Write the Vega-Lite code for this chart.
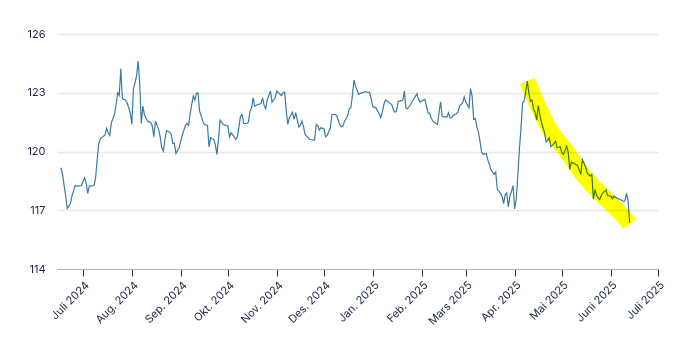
{
  "$schema": "https://vega.github.io/schema/vega-lite/v6.json",
  "width": 601,
  "height": 235,
  "autosize": {"type": "none"},
  "padding": {"left": 57, "top": 34, "right": 32, "bottom": 91},
  "background": "white",
  "config": {
    "view": {"stroke": null},
    "font": "Inter",
    "axis": {"labelFont": "Inter", "labelFontSize": 11, "labelColor": "#1a2744"}
  },
  "datasets": {
    "series": [
      {"date": "2024-06-17", "value": 119.17}, {"date": "2024-06-18", "value": 118.83}, {"date": "2024-06-20", "value": 117.72}, {"date": "2024-06-21", "value": 117.09}, {"date": "2024-06-23", "value": 117.34}, {"date": "2024-06-24", "value": 117.72}, {"date": "2024-06-26", "value": 118.26}, {"date": "2024-06-28", "value": 118.23}, {"date": "2024-06-30", "value": 118.26}, {"date": "2024-07-02", "value": 118.66}, {"date": "2024-07-03", "value": 118.40}, {"date": "2024-07-04", "value": 117.86}, {"date": "2024-07-05", "value": 118.23}, {"date": "2024-07-08", "value": 118.26}, {"date": "2024-07-09", "value": 118.66}, {"date": "2024-07-10", "value": 119.59}, {"date": "2024-07-11", "value": 120.39}, {"date": "2024-07-12", "value": 120.65}, {"date": "2024-07-15", "value": 120.85}, {"date": "2024-07-16", "value": 121.18}, {"date": "2024-07-17", "value": 120.96}, {"date": "2024-07-18", "value": 120.82}, {"date": "2024-07-19", "value": 121.47}, {"date": "2024-07-21", "value": 121.89}, {"date": "2024-07-22", "value": 122.40}, {"date": "2024-07-23", "value": 123.00}, {"date": "2024-07-24", "value": 122.86}, {"date": "2024-07-25", "value": 124.23}, {"date": "2024-07-26", "value": 122.69}, {"date": "2024-07-28", "value": 122.63}, {"date": "2024-07-29", "value": 122.49}, {"date": "2024-07-31", "value": 121.98}, {"date": "2024-08-01", "value": 121.38}, {"date": "2024-08-02", "value": 123.17}, {"date": "2024-08-04", "value": 123.85}, {"date": "2024-08-05", "value": 124.62}, {"date": "2024-08-06", "value": 123.51}, {"date": "2024-08-07", "value": 121.43}, {"date": "2024-08-08", "value": 122.32}, {"date": "2024-08-09", "value": 121.89}, {"date": "2024-08-11", "value": 121.55}, {"date": "2024-08-13", "value": 121.47}, {"date": "2024-08-14", "value": 121.30}, {"date": "2024-08-15", "value": 120.75}, {"date": "2024-08-16", "value": 121.55}, {"date": "2024-08-18", "value": 121.13}, {"date": "2024-08-19", "value": 120.75}, {"date": "2024-08-20", "value": 120.19}, {"date": "2024-08-21", "value": 120.02}, {"date": "2024-08-22", "value": 120.60}, {"date": "2024-08-23", "value": 121.07}, {"date": "2024-08-25", "value": 120.99}, {"date": "2024-08-26", "value": 120.87}, {"date": "2024-08-27", "value": 120.41}, {"date": "2024-08-28", "value": 120.41}, {"date": "2024-08-29", "value": 119.90}, {"date": "2024-08-31", "value": 120.19}, {"date": "2024-09-01", "value": 120.53}, {"date": "2024-09-02", "value": 120.82}, {"date": "2024-09-04", "value": 121.33}, {"date": "2024-09-05", "value": 121.43}, {"date": "2024-09-06", "value": 121.33}, {"date": "2024-09-07", "value": 121.89}, {"date": "2024-09-08", "value": 122.40}, {"date": "2024-09-09", "value": 122.83}, {"date": "2024-09-10", "value": 122.63}, {"date": "2024-09-11", "value": 122.97}, {"date": "2024-09-12", "value": 123.00}, {"date": "2024-09-13", "value": 122.06}, {"date": "2024-09-14", "value": 121.84}, {"date": "2024-09-15", "value": 121.55}, {"date": "2024-09-16", "value": 121.38}, {"date": "2024-09-18", "value": 121.33}, {"date": "2024-09-19", "value": 120.24}, {"date": "2024-09-20", "value": 120.70}, {"date": "2024-09-22", "value": 120.61}, {"date": "2024-09-23", "value": 120.36}, {"date": "2024-09-24", "value": 119.85}, {"date": "2024-09-25", "value": 120.61}, {"date": "2024-09-26", "value": 121.60}, {"date": "2024-09-28", "value": 121.38}, {"date": "2024-10-01", "value": 121.30}, {"date": "2024-10-02", "value": 120.75}, {"date": "2024-10-03", "value": 120.96}, {"date": "2024-10-05", "value": 120.75}, {"date": "2024-10-06", "value": 120.61}, {"date": "2024-10-07", "value": 120.75}, {"date": "2024-10-09", "value": 121.81}, {"date": "2024-10-10", "value": 121.89}, {"date": "2024-10-11", "value": 121.43}, {"date": "2024-10-13", "value": 121.43}, {"date": "2024-10-14", "value": 121.50}, {"date": "2024-10-15", "value": 122.06}, {"date": "2024-10-16", "value": 122.23}, {"date": "2024-10-17", "value": 122.74}, {"date": "2024-10-18", "value": 122.32}, {"date": "2024-10-20", "value": 122.40}, {"date": "2024-10-22", "value": 122.45}, {"date": "2024-10-23", "value": 122.74}, {"date": "2024-10-24", "value": 122.35}, {"date": "2024-10-25", "value": 122.18}, {"date": "2024-10-26", "value": 122.66}, {"date": "2024-10-28", "value": 123.09}, {"date": "2024-10-29", "value": 122.52}, {"date": "2024-10-31", "value": 122.74}, {"date": "2024-11-01", "value": 123.09}, {"date": "2024-11-02", "value": 123.00}, {"date": "2024-11-04", "value": 122.86}, {"date": "2024-11-05", "value": 123.00}, {"date": "2024-11-06", "value": 123.03}, {"date": "2024-11-07", "value": 122.11}, {"date": "2024-11-08", "value": 121.38}, {"date": "2024-11-09", "value": 121.72}, {"date": "2024-11-11", "value": 122.01}, {"date": "2024-11-12", "value": 121.64}, {"date": "2024-11-13", "value": 121.98}, {"date": "2024-11-15", "value": 121.26}, {"date": "2024-11-16", "value": 121.33}, {"date": "2024-11-17", "value": 121.55}, {"date": "2024-11-18", "value": 121.26}, {"date": "2024-11-19", "value": 120.87}, {"date": "2024-11-21", "value": 120.70}, {"date": "2024-11-22", "value": 120.61}, {"date": "2024-11-25", "value": 120.58}, {"date": "2024-11-26", "value": 121.38}, {"date": "2024-11-27", "value": 121.33}, {"date": "2024-11-28", "value": 121.09}, {"date": "2024-11-29", "value": 121.21}, {"date": "2024-12-01", "value": 121.16}, {"date": "2024-12-02", "value": 120.75}, {"date": "2024-12-03", "value": 120.82}, {"date": "2024-12-05", "value": 121.21}, {"date": "2024-12-06", "value": 121.89}, {"date": "2024-12-08", "value": 121.89}, {"date": "2024-12-09", "value": 121.84}, {"date": "2024-12-11", "value": 121.38}, {"date": "2024-12-12", "value": 121.26}, {"date": "2024-12-13", "value": 121.30}, {"date": "2024-12-14", "value": 121.55}, {"date": "2024-12-16", "value": 121.81}, {"date": "2024-12-17", "value": 122.18}, {"date": "2024-12-18", "value": 122.23}, {"date": "2024-12-19", "value": 122.83}, {"date": "2024-12-20", "value": 123.65}, {"date": "2024-12-21", "value": 123.34}, {"date": "2024-12-23", "value": 122.91}, {"date": "2024-12-24", "value": 122.97}, {"date": "2024-12-27", "value": 123.05}, {"date": "2024-12-29", "value": 123.03}, {"date": "2024-12-30", "value": 123.00}, {"date": "2024-12-31", "value": 122.66}, {"date": "2025-01-01", "value": 122.28}, {"date": "2025-01-03", "value": 122.23}, {"date": "2025-01-04", "value": 122.06}, {"date": "2025-01-05", "value": 121.94}, {"date": "2025-01-06", "value": 121.72}, {"date": "2025-01-07", "value": 122.01}, {"date": "2025-01-08", "value": 122.40}, {"date": "2025-01-09", "value": 122.63}, {"date": "2025-01-11", "value": 122.52}, {"date": "2025-01-13", "value": 122.40}, {"date": "2025-01-14", "value": 122.15}, {"date": "2025-01-15", "value": 122.01}, {"date": "2025-01-16", "value": 122.06}, {"date": "2025-01-17", "value": 122.54}, {"date": "2025-01-18", "value": 122.57}, {"date": "2025-01-20", "value": 122.63}, {"date": "2025-01-21", "value": 123.09}, {"date": "2025-01-22", "value": 122.23}, {"date": "2025-01-23", "value": 122.18}, {"date": "2025-01-25", "value": 122.40}, {"date": "2025-01-27", "value": 122.69}, {"date": "2025-01-29", "value": 122.95}, {"date": "2025-01-30", "value": 122.66}, {"date": "2025-01-31", "value": 122.52}, {"date": "2025-02-02", "value": 122.63}, {"date": "2025-02-03", "value": 122.66}, {"date": "2025-02-05", "value": 121.98}, {"date": "2025-02-06", "value": 121.94}, {"date": "2025-02-07", "value": 121.72}, {"date": "2025-02-08", "value": 121.55}, {"date": "2025-02-10", "value": 121.43}, {"date": "2025-02-11", "value": 121.38}, {"date": "2025-02-12", "value": 121.98}, {"date": "2025-02-13", "value": 122.54}, {"date": "2025-02-14", "value": 121.81}, {"date": "2025-02-15", "value": 121.77}, {"date": "2025-02-17", "value": 121.77}, {"date": "2025-02-18", "value": 121.98}, {"date": "2025-02-19", "value": 121.72}, {"date": "2025-02-20", "value": 121.72}, {"date": "2025-02-21", "value": 121.84}, {"date": "2025-02-23", "value": 121.93}, {"date": "2025-02-24", "value": 122.01}, {"date": "2025-02-25", "value": 122.32}, {"date": "2025-02-27", "value": 122.49}, {"date": "2025-02-28", "value": 122.80}, {"date": "2025-03-01", "value": 122.52}, {"date": "2025-03-03", "value": 122.23}, {"date": "2025-03-04", "value": 123.20}, {"date": "2025-03-05", "value": 122.83}, {"date": "2025-03-06", "value": 121.64}, {"date": "2025-03-07", "value": 121.69}, {"date": "2025-03-08", "value": 121.26}, {"date": "2025-03-09", "value": 120.99}, {"date": "2025-03-10", "value": 120.53}, {"date": "2025-03-11", "value": 119.97}, {"date": "2025-03-12", "value": 119.85}, {"date": "2025-03-14", "value": 119.90}, {"date": "2025-03-15", "value": 119.56}, {"date": "2025-03-16", "value": 119.34}, {"date": "2025-03-17", "value": 119.05}, {"date": "2025-03-19", "value": 118.83}, {"date": "2025-03-20", "value": 118.95}, {"date": "2025-03-21", "value": 118.06}, {"date": "2025-03-22", "value": 117.97}, {"date": "2025-03-23", "value": 117.86}, {"date": "2025-03-24", "value": 117.72}, {"date": "2025-03-25", "value": 117.34}, {"date": "2025-03-26", "value": 117.80}, {"date": "2025-03-27", "value": 117.89}, {"date": "2025-03-28", "value": 117.17}, {"date": "2025-03-29", "value": 117.72}, {"date": "2025-03-30", "value": 117.97}, {"date": "2025-03-31", "value": 118.26}, {"date": "2025-04-01", "value": 117.07}, {"date": "2025-04-02", "value": 117.55}, {"date": "2025-04-03", "value": 118.74}, {"date": "2025-04-04", "value": 120.10}, {"date": "2025-04-05", "value": 121.13}, {"date": "2025-04-06", "value": 122.49}, {"date": "2025-04-07", "value": 122.57}, {"date": "2025-04-08", "value": 123.03}, {"date": "2025-04-09", "value": 123.60}, {"date": "2025-04-10", "value": 123.00}, {"date": "2025-04-11", "value": 122.57}, {"date": "2025-04-12", "value": 122.63}, {"date": "2025-04-13", "value": 122.15}, {"date": "2025-04-14", "value": 122.01}, {"date": "2025-04-15", "value": 121.60}, {"date": "2025-04-16", "value": 122.35}, {"date": "2025-04-17", "value": 121.89}, {"date": "2025-04-18", "value": 121.47}, {"date": "2025-04-20", "value": 120.96}, {"date": "2025-04-21", "value": 120.48}, {"date": "2025-04-23", "value": 120.70}, {"date": "2025-04-24", "value": 120.24}, {"date": "2025-04-26", "value": 120.41}, {"date": "2025-04-27", "value": 120.53}, {"date": "2025-04-28", "value": 120.19}, {"date": "2025-04-30", "value": 120.24}, {"date": "2025-05-01", "value": 119.93}, {"date": "2025-05-02", "value": 119.85}, {"date": "2025-05-04", "value": 120.27}, {"date": "2025-05-05", "value": 119.97}, {"date": "2025-05-06", "value": 119.08}, {"date": "2025-05-07", "value": 119.46}, {"date": "2025-05-08", "value": 119.42}, {"date": "2025-05-11", "value": 119.29}, {"date": "2025-05-12", "value": 119.05}, {"date": "2025-05-13", "value": 118.83}, {"date": "2025-05-14", "value": 119.59}, {"date": "2025-05-16", "value": 119.22}, {"date": "2025-05-17", "value": 118.91}, {"date": "2025-05-19", "value": 118.74}, {"date": "2025-05-20", "value": 118.83}, {"date": "2025-05-21", "value": 117.55}, {"date": "2025-05-22", "value": 118.06}, {"date": "2025-05-23", "value": 117.75}, {"date": "2025-05-25", "value": 117.55}, {"date": "2025-05-26", "value": 117.75}, {"date": "2025-05-27", "value": 117.89}, {"date": "2025-05-29", "value": 118.03}, {"date": "2025-05-30", "value": 117.75}, {"date": "2025-06-01", "value": 117.72}, {"date": "2025-06-02", "value": 117.58}, {"date": "2025-06-03", "value": 117.72}, {"date": "2025-06-05", "value": 117.63}, {"date": "2025-06-06", "value": 117.58}, {"date": "2025-06-07", "value": 117.55}, {"date": "2025-06-09", "value": 117.46}, {"date": "2025-06-10", "value": 117.46}, {"date": "2025-06-11", "value": 117.86}, {"date": "2025-06-12", "value": 117.50}, {"date": "2025-06-13", "value": 116.36}
    ],
    "highlight": [
      {"date": "2025-04-09", "value": 123.6},
      {"date": "2025-04-22", "value": 121.3},
      {"date": "2025-05-04", "value": 120.0},
      {"date": "2025-05-15", "value": 118.75},
      {"date": "2025-05-30", "value": 117.5},
      {"date": "2025-06-10", "value": 116.6},
      {"date": "2025-06-13", "value": 116.3}
    ]
  },
  "encoding": {
    "x": {
      "field": "date",
      "type": "temporal",
      "scale": {
        "type": "utc",
        "nice": false,
        "domain": [
          {"year": 2024, "month": 6, "date": 14, "hours": 12, "utc": true},
          {"year": 2025, "month": 7, "date": 1, "utc": true}
        ]
      },
      "axis": {
        "title": null,
        "grid": false,
        "domainColor": "#b5b5b5",
        "domainWidth": 1,
        "tickColor": "#333333",
        "tickSize": 7,
        "tickWidth": 1,
        "labelAngle": -45,
        "labelFlush": false,
        "labelOverlap": false,
        "labelBound": false,
        "labelPadding": 3,
        "tickCount": {"interval": "month", "step": 1},
        "labelExpr": "['Jan.','Feb.','Mars','Apr.','Mai','Juni','Juli','Aug.','Sep.','Okt.','Nov.','Des.'][utcmonth(datum.value)] + ' ' + utcyear(datum.value)"
      }
    },
    "y": {
      "field": "value",
      "type": "quantitative",
      "scale": {"domain": [114, 126], "nice": false, "zero": false},
      "axis": {
        "title": null,
        "values": [114, 117, 120, 123, 126],
        "domain": false,
        "ticks": false,
        "labelPadding": 12,
        "gridColor": "#e6e6e6",
        "gridWidth": 1.5
      }
    }
  },
  "layer": [
    {
      "data": {"name": "series"},
      "mark": {"type": "line", "color": "#3a7aa3", "strokeWidth": 1.2}
    },
    {
      "data": {"name": "highlight"},
      "mark": {"type": "line", "color": "#ffff00", "strokeWidth": 16, "strokeCap": "butt", "interpolate": "monotone", "blend": "multiply"}
    }
  ]
}
